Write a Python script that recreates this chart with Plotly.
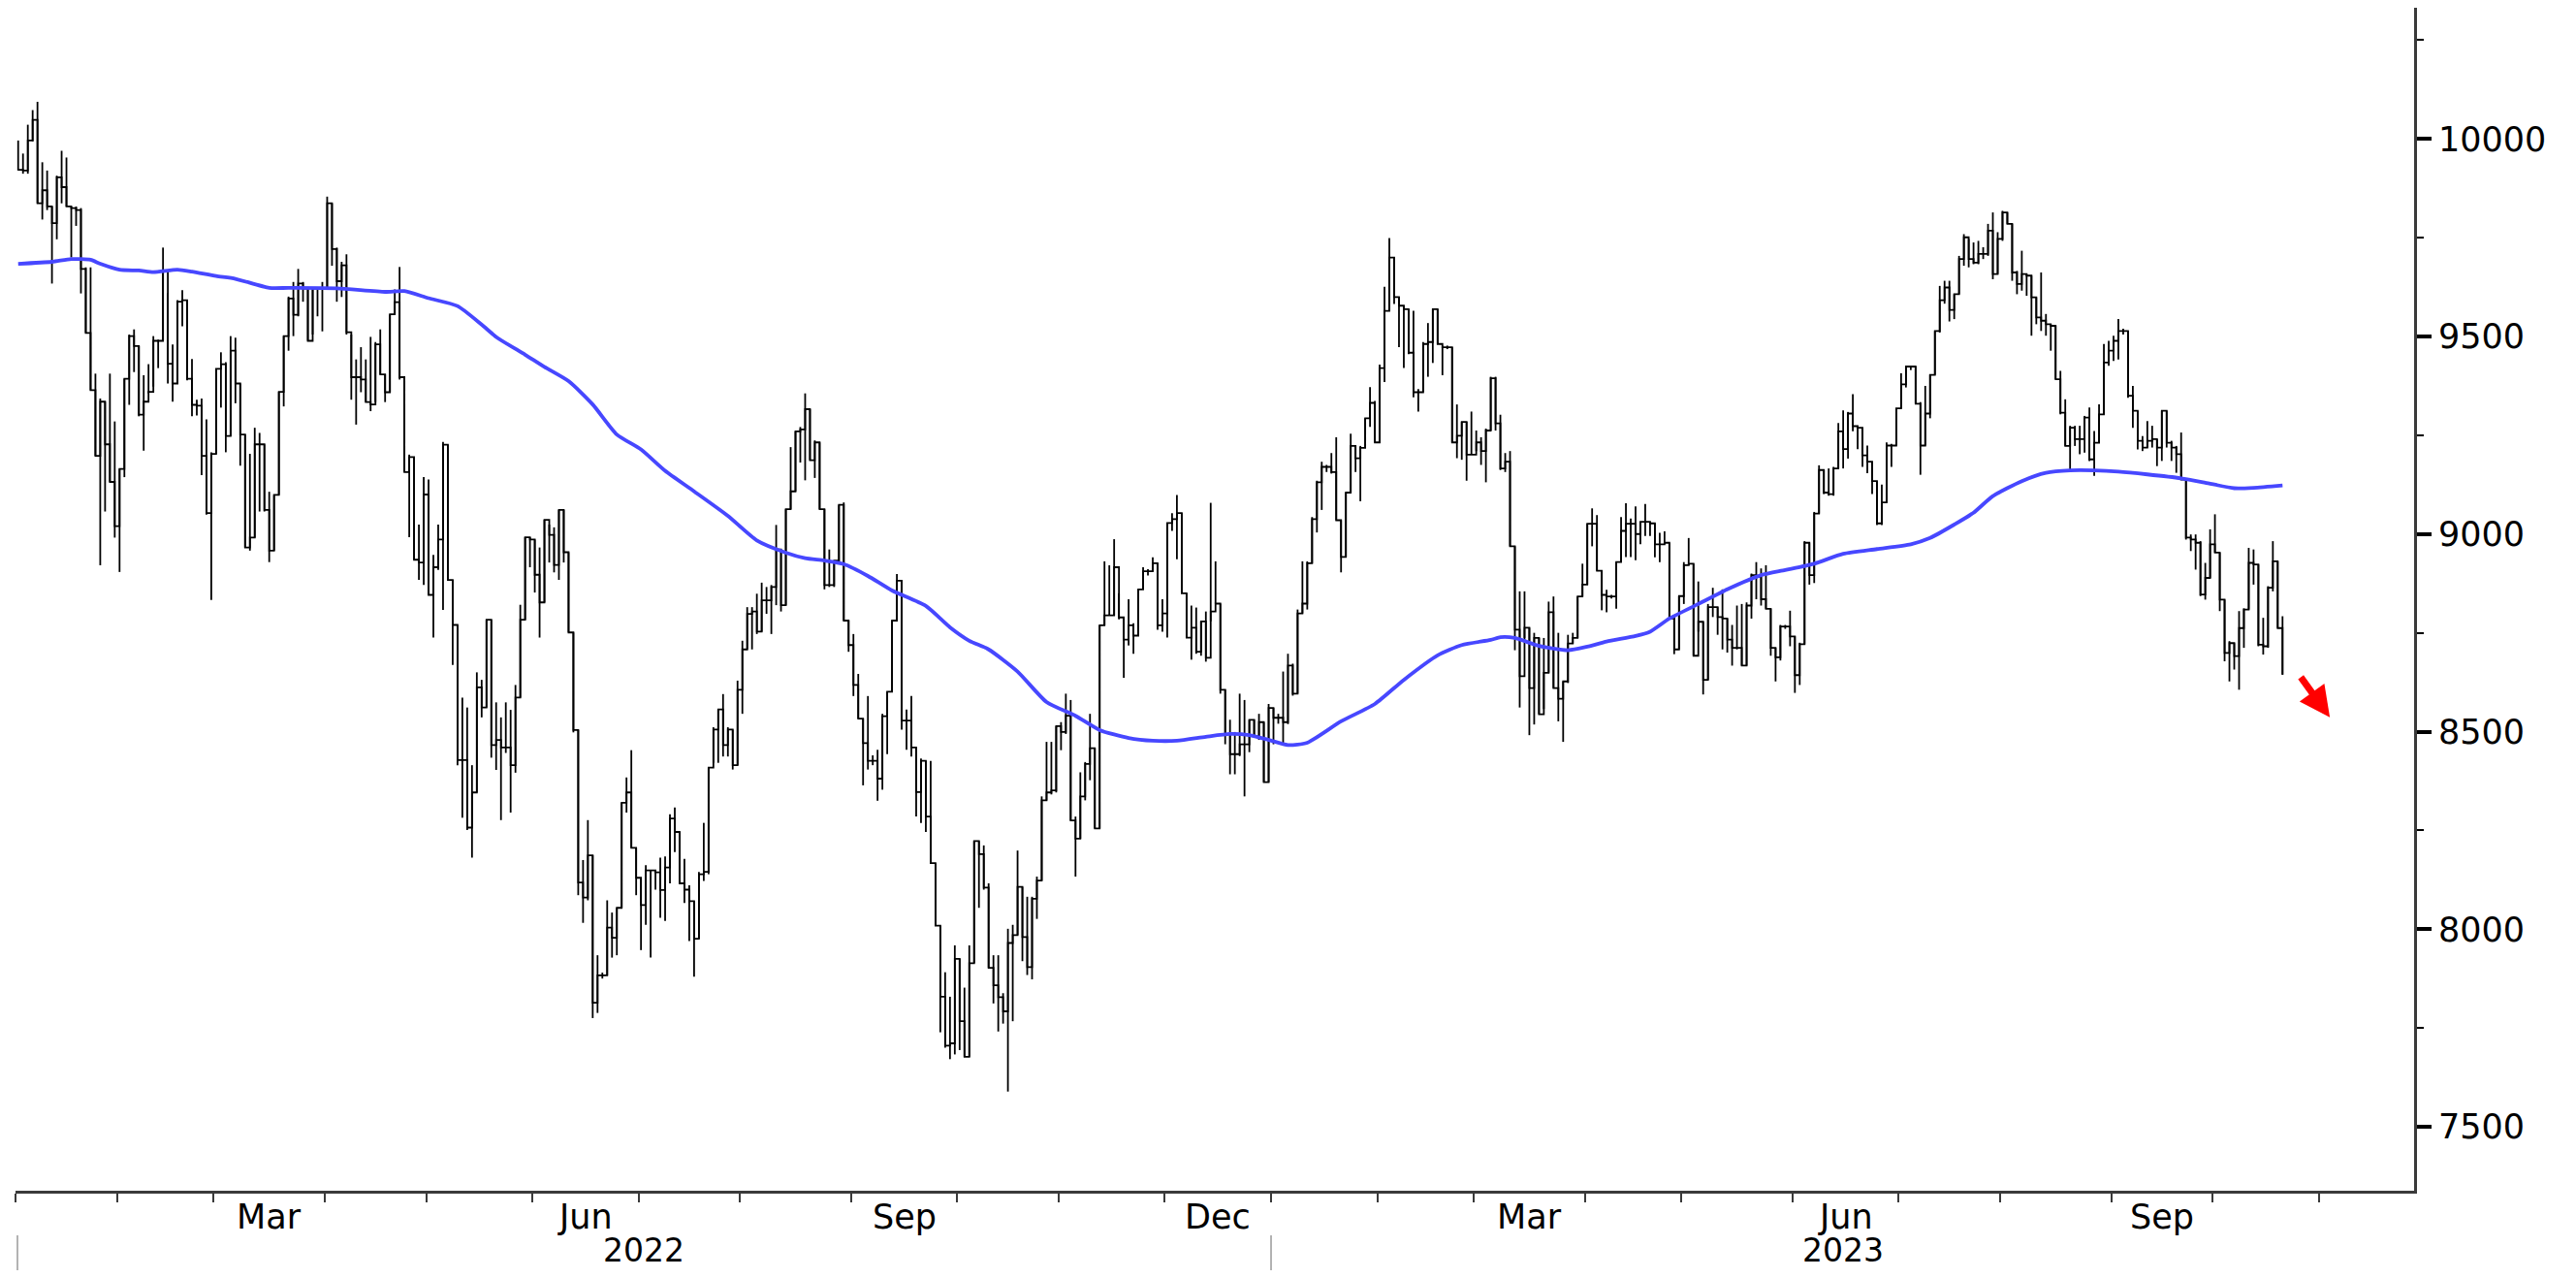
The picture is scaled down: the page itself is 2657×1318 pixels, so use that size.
import numpy as np
import pandas as pd
import plotly.graph_objects as go

# ---------------- data ----------------
START = "2022-01-03"          # first trading day shown
AXIS_END = "2023-11-30"       # axis runs a little past the last bar

high = [
9996, 9963, 10036, 10073, 10094, 9941, 9920, 9829, 9907, 9970,
9953, 9829, 9829, 9825, 9675, 9675, 9406, 9343, 9335, 9406,
9285, 9165, 9393, 9505, 9518, 9476, 9402, 9430, 9501, 9492,
9725, 9609, 9480, 9592, 9617, 9592, 9443, 9340, 9343, 9290,
9207, 9418, 9460, 9435, 9501, 9497, 9381, 9252, 9203, 9269,
9256, 9227, 9107, 9099, 9360, 9501, 9601, 9638, 9671, 9638,
9621, 9621, 9621, 9638, 9854, 9837, 9725, 9689, 9708, 9505,
9442, 9473, 9442, 9499, 9486, 9518, 9404, 9556, 9619, 9676,
9397, 9201, 9195, 9024, 9144, 9138, 8947, 9024, 9233, 9226,
8884, 8770, 8586, 8561, 8415, 8650, 8631, 8783, 8783, 8574,
8536, 8574, 8555, 8618, 8821, 8992, 8992, 8986, 8966, 9036,
9024, 9017, 9061, 9061, 8954, 8751, 8504, 8175, 8276, 8187,
7934, 7890, 8073, 8042, 8054, 8320, 8384, 8453, 8206, 8130,
8162, 8149, 8150, 8181, 8184, 8291, 8308, 8246, 8178, 8111,
8071, 8145, 8269, 8409, 8511, 8556, 8595, 8511, 8505, 8629,
8730, 8815, 8815, 8849, 8877, 8866, 8871, 9023, 8961, 9063,
9220, 9260, 9271, 9356, 9316, 9237, 9232, 9063, 8961, 8933,
9074, 9080, 8781, 8747, 8646, 8533, 8590, 8440, 8454, 8545,
8601, 8781, 8899, 8882, 8556, 8590, 8460, 8432, 8426, 8426,
8167, 8009, 7891, 7829, 7959, 7925, 7852, 7959, 8223, 8223,
8212, 8116, 7934, 7934, 7838, 8001, 8011, 8199, 8107, 8082,
8082, 8133, 8336, 8474, 8474, 8514, 8524, 8596, 8580, 8285,
8397, 8423, 8545, 8458, 8769, 8931, 8921, 8987, 8850, 8789,
8835, 8774, 8860, 8916, 8911, 8941, 8926, 8835, 9028, 9053,
9099, 9053, 8850, 8819, 8814, 8779, 8804, 9079, 8931, 8824,
8606, 8530, 8499, 8596, 8580, 8530, 8530, 8545, 8524, 8570,
8560, 8545, 8652, 8697, 8672, 8809, 8931, 8931, 9043, 9135,
9183, 9175, 9205, 9245, 9035, 9105, 9254, 9223, 9223, 9293,
9372, 9337, 9429, 9626, 9749, 9700, 9600, 9578, 9569, 9565,
9367, 9486, 9534, 9569, 9569, 9477, 9477, 9473, 9328, 9284,
9284, 9310, 9262, 9245, 9267, 9398, 9398, 9302, 9205, 9210,
8969, 8855, 8855, 8763, 8750, 8737, 8737, 8829, 8842, 8750,
8627, 8745, 8750, 8842, 8925, 9026, 9065, 9048, 8907, 8859,
8846, 8929, 9043, 9078, 9039, 9070, 9031, 9076, 9031, 9027,
9003, 9007, 8978, 8790, 8843, 8929, 8990, 8925, 8880, 8778,
8823, 8864, 8815, 8860, 8786, 8770, 8819, 8823, 8827, 8900,
8929, 8913, 8921, 8811, 8712, 8770, 8770, 8806, 8741, 8725,
8982, 8978, 9056, 9174, 9162, 9166, 9170, 9281, 9313, 9309,
9354, 9273, 9269, 9224, 9183, 9134, 9125, 9232, 9228, 9318,
9407, 9424, 9424, 9424, 9334, 9375, 9403, 9514, 9628, 9641,
9641, 9607, 9704, 9759, 9747, 9738, 9742, 9726, 9785, 9814,
9764, 9818, 9814, 9785, 9666, 9717, 9658, 9654, 9599, 9662,
9557, 9531, 9527, 9413, 9341, 9274, 9274, 9274, 9299, 9320,
9261, 9328, 9481, 9489, 9502, 9544, 9520, 9514, 9375, 9312,
9248, 9286, 9274, 9240, 9312, 9312, 9236, 9223, 9257, 9138,
8999, 8999, 8982, 8927, 9012, 9050, 8953, 8834, 8729, 8724,
8805, 8812, 8965, 8961, 8923, 8788, 8868, 8982, 8931, 8792,
]

low = [
9920, 9912, 9912, 9994, 9837, 9796, 9820, 9634, 9746, 9837,
9829, 9700, 9780, 9609, 9509, 9364, 9198, 8921, 9057, 9132,
8991, 8904, 9144, 9327, 9410, 9298, 9211, 9356, 9373, 9420,
9489, 9381, 9335, 9381, 9526, 9389, 9298, 9300, 9149, 9049,
8833, 9203, 9320, 9207, 9248, 9331, 9173, 8966, 8958, 8991,
9057, 9057, 8929, 8958, 9099, 9323, 9464, 9501, 9551, 9588,
9489, 9505, 9551, 9513, 9621, 9679, 9588, 9600, 9505, 9340,
9277, 9359, 9334, 9311, 9334, 9404, 9334, 9359, 9556, 9391,
9157, 8992, 8935, 8884, 8871, 8846, 8738, 8909, 8808, 8884,
8669, 8415, 8282, 8251, 8181, 8346, 8536, 8561, 8434, 8403,
8276, 8446, 8295, 8396, 8586, 8783, 8916, 8852, 8738, 8827,
8928, 8903, 8884, 8928, 8751, 8498, 8086, 8016, 8073, 7775,
7788, 7875, 7883, 7928, 7934, 8054, 8295, 8206, 8086, 7947,
8011, 7928, 8100, 8029, 8021, 8116, 8195, 8116, 8066, 7970,
7880, 7976, 8122, 8139, 8421, 8421, 8437, 8437, 8404, 8415,
8545, 8708, 8708, 8747, 8753, 8798, 8747, 8820, 8804, 8820,
9063, 9108, 9181, 9136, 9187, 9142, 9063, 8860, 8866, 8866,
8928, 8781, 8702, 8590, 8533, 8364, 8404, 8415, 8325, 8353,
8443, 8601, 8781, 8505, 8454, 8437, 8285, 8269, 8246, 8167,
8009, 7739, 7700, 7671, 7683, 7694, 7677, 7677, 7914, 8054,
8100, 7902, 7812, 7741, 7761, 7589, 7767, 7985, 7919, 7884,
7873, 8026, 8123, 8326, 8341, 8346, 8453, 8494, 8275, 8133,
8229, 8326, 8377, 8255, 8255, 8769, 8794, 8794, 8784, 8636,
8718, 8697, 8743, 8860, 8895, 8906, 8758, 8753, 8738, 9008,
8936, 8850, 8738, 8682, 8697, 8692, 8677, 8779, 8824, 8596,
8468, 8392, 8392, 8438, 8336, 8448, 8489, 8479, 8372, 8372,
8468, 8520, 8468, 8519, 8591, 8596, 8799, 8809, 8926, 9004,
9061, 9157, 9153, 9035, 8903, 8942, 9105, 9157, 9083, 9218,
9271, 9232, 9232, 9385, 9565, 9582, 9473, 9420, 9455, 9346,
9310, 9359, 9398, 9433, 9481, 9402, 9468, 9232, 9192, 9188,
9135, 9201, 9210, 9175, 9131, 9262, 9262, 9162, 9157, 8969,
8706, 8561, 8737, 8491, 8518, 8544, 8557, 8649, 8610, 8526,
8474, 8623, 8723, 8737, 8842, 8872, 8969, 8907, 8807, 8802,
8837, 8811, 8929, 8942, 8942, 8934, 8974, 8995, 8995, 8941,
8929, 8974, 8786, 8696, 8708, 8823, 8921, 8692, 8753, 8594,
8631, 8790, 8745, 8708, 8700, 8667, 8708, 8667, 8667, 8786,
8835, 8819, 8811, 8692, 8627, 8680, 8760, 8716, 8598, 8618,
8721, 8872, 8876, 9052, 9101, 9097, 9097, 9166, 9166, 9191,
9260, 9215, 9170, 9154, 9101, 9023, 9023, 9080, 9170, 9224,
9318, 9371, 9415, 9330, 9150, 9224, 9293, 9403, 9510, 9583,
9538, 9544, 9607, 9679, 9675, 9683, 9683, 9696, 9704, 9645,
9658, 9742, 9785, 9641, 9607, 9616, 9603, 9502, 9531, 9514,
9502, 9464, 9392, 9303, 9223, 9164, 9223, 9202, 9206, 9185,
9147, 9231, 9303, 9426, 9438, 9442, 9505, 9345, 9269, 9214,
9210, 9219, 9219, 9172, 9185, 9219, 9185, 9155, 9138, 8986,
8957, 8910, 8843, 8834, 8889, 8953, 8805, 8678, 8627, 8657,
8606, 8712, 8809, 8872, 8716, 8695, 8712, 8855, 8762, 8644,
]

close = [
9922, 9920, 9996, 10048, 9837, 9870, 9829, 9787, 9903, 9878,
9829, 9825, 9820, 9671, 9509, 9364, 9198, 9335, 9227, 9132,
9020, 9165, 9393, 9501, 9476, 9302, 9335, 9360, 9489, 9489,
9667, 9431, 9381, 9588, 9592, 9393, 9327, 9325, 9198, 9053,
9203, 9418, 9430, 9248, 9464, 9381, 9252, 8966, 8991, 9227,
9227, 9061, 8958, 9099, 9360, 9501, 9596, 9555, 9634, 9621,
9489, 9621, 9621, 9621, 9837, 9721, 9640, 9680, 9511, 9397,
9397, 9391, 9334, 9328, 9480, 9404, 9359, 9556, 9587, 9397,
9157, 9195, 8935, 8928, 9100, 8846, 8916, 8986, 9226, 8884,
8770, 8428, 8428, 8257, 8346, 8612, 8561, 8783, 8466, 8479,
8460, 8460, 8415, 8586, 8783, 8992, 8986, 8897, 8827, 9036,
8998, 8922, 9061, 8954, 8751, 8504, 8118, 8080, 8187, 7814,
7883, 7883, 8004, 7978, 8054, 8320, 8346, 8206, 8130, 8061,
8149, 8149, 8144, 8099, 8156, 8280, 8246, 8116, 8100, 8071,
7976, 8139, 8145, 8409, 8505, 8556, 8466, 8505, 8415, 8606,
8708, 8798, 8804, 8753, 8832, 8832, 8866, 8961, 8820, 9063,
9108, 9260, 9265, 9316, 9187, 9232, 9063, 8871, 8871, 8933,
9074, 8781, 8719, 8618, 8533, 8471, 8426, 8426, 8381, 8539,
8601, 8781, 8882, 8528, 8528, 8460, 8347, 8426, 8285, 8167,
8009, 7829, 7705, 7711, 7925, 7767, 7677, 7914, 8223, 8190,
8105, 7902, 7858, 7828, 7792, 7965, 7985, 8107, 7980, 7904,
8077, 8123, 8326, 8346, 8351, 8514, 8499, 8540, 8275, 8229,
8336, 8418, 8458, 8255, 8769, 8794, 8794, 8916, 8789, 8733,
8769, 8743, 8860, 8906, 8906, 8926, 8769, 8799, 9028, 9038,
9053, 8850, 8738, 8763, 8702, 8779, 8687, 8804, 8824, 8606,
8494, 8443, 8443, 8468, 8468, 8530, 8489, 8524, 8372, 8560,
8535, 8535, 8524, 8667, 8596, 8799, 8824, 8926, 9038, 9131,
9170, 9170, 9157, 9035, 8942, 9105, 9223, 9192, 9218, 9293,
9332, 9232, 9420, 9565, 9700, 9600, 9578, 9569, 9459, 9359,
9359, 9481, 9486, 9569, 9481, 9473, 9473, 9232, 9249, 9284,
9201, 9201, 9232, 9210, 9262, 9394, 9280, 9166, 9183, 8969,
8758, 8640, 8763, 8610, 8737, 8544, 8649, 8802, 8610, 8583,
8627, 8723, 8737, 8842, 8872, 9026, 9026, 8907, 8846, 8842,
8842, 8929, 9008, 9026, 9026, 9000, 9031, 9031, 9027, 8974,
8974, 8978, 8786, 8708, 8843, 8921, 8925, 8692, 8778, 8631,
8815, 8815, 8790, 8786, 8733, 8712, 8712, 8667, 8819, 8896,
8892, 8835, 8811, 8712, 8688, 8766, 8766, 8741, 8643, 8721,
8978, 8896, 9052, 9162, 9105, 9101, 9166, 9260, 9215, 9305,
9273, 9269, 9199, 9183, 9134, 9027, 9080, 9224, 9224, 9318,
9379, 9424, 9424, 9330, 9224, 9305, 9403, 9514, 9592, 9624,
9567, 9607, 9696, 9751, 9696, 9687, 9709, 9709, 9768, 9658,
9747, 9814, 9785, 9662, 9633, 9658, 9654, 9599, 9548, 9540,
9531, 9527, 9392, 9307, 9223, 9269, 9240, 9240, 9295, 9189,
9231, 9303, 9434, 9464, 9489, 9514, 9514, 9350, 9312, 9236,
9219, 9236, 9240, 9219, 9312, 9231, 9219, 9202, 9138, 8991,
8986, 8978, 8847, 8889, 8974, 8953, 8834, 8699, 8724, 8691,
8762, 8809, 8927, 8923, 8720, 8716, 8864, 8931, 8762, 8644,
]

# moving average (blue line), sampled at trading-day positions
ma_day = [0, 7, 11, 15, 17, 21, 25, 28, 33, 36, 41, 45, 52, 56, 66, 76, 80, 85,
          91, 96, 99, 105, 109, 114, 119, 124, 129, 134, 140, 147, 153, 159, 163,
          167, 171, 176, 181, 188, 193, 197, 201, 207, 213, 219, 224, 230, 235,
          240, 246, 251, 255, 259, 263, 267, 274, 281, 287, 294, 299, 305, 307,
          310, 315, 321, 325, 329, 335, 338, 342, 348, 354, 361, 366, 372, 378,
          385, 392, 396, 401, 405, 409, 415, 420, 425, 430, 435, 441, 448, 453,
          459, 463, 469]
ma_value = [9684, 9689, 9696, 9694, 9684, 9669, 9667, 9663, 9669, 9664, 9653, 9646,
            9623, 9623, 9622, 9613, 9615, 9597, 9577, 9530, 9499, 9454, 9423, 9387,
            9328, 9252, 9214, 9160, 9108, 9046, 8984, 8953, 8939, 8933, 8924, 8894,
            8857, 8818, 8764, 8730, 8708, 8652, 8575, 8540, 8504, 8484, 8477, 8477,
            8487, 8494, 8491, 8479, 8466, 8472, 8526, 8570, 8631, 8693, 8719, 8732,
            8739, 8737, 8717, 8706, 8715, 8728, 8742, 8753, 8786, 8823, 8860, 8896,
            8909, 8925, 8950, 8962, 8974, 8990, 9024, 9054, 9096, 9134, 9155, 9161,
            9161, 9158, 9151, 9141, 9130, 9116, 9117, 9123]

month_labels = {3: "Mar", 6: "Jun", 9: "Sep", 12: "Dec"}
y_ticks = [7500, 8000, 8500, 9000, 9500, 10000]
y_tick_text = ["7500", "8000", "8500", "9000", "9500", "10000"]

# ---------------- derived positions ----------------
N = len(close)
days = np.arange(N)
X_RANGE = [-0.55, 496.25]
Y_RANGE = [7338, 10332]

axis_days = pd.bdate_range(START, AXIS_END)
periods = axis_days.to_period("M")
pos = np.arange(len(axis_days))
first_of_month = np.r_[True, periods[1:] != periods[:-1]]
month_bounds = (pos[first_of_month] - 0.5).tolist()

month_centers = []
for p in pd.unique(periods):
    idx = pos[periods == p]
    if p.month in month_labels and idx[-1] <= X_RANGE[1]:
        month_centers.append(((idx[0] + idx[-1]) / 2.0, month_labels[p.month]))

years = axis_days.year
year_info = []
for yv in sorted(set(years)):
    idx = pos[years == yv]
    a = max(idx[0] - 0.5, X_RANGE[0])
    b = min(idx[-1] + 0.5, X_RANGE[1])
    year_info.append((idx[0] - 0.5, (a + b) / 2.0, str(yv)))

# vertical high-low segments
seg_x, seg_y = [], []
for i in range(N):
    seg_x += [days[i], days[i], None]
    seg_y += [low[i], high[i], None]

FONT = "DejaVu Sans"
FS = 35

fig = go.Figure()
fig.add_trace(go.Scatter(x=seg_x, y=seg_y, mode="lines",
                         line=dict(color="black", width=1.8),
                         hoverinfo="skip", showlegend=False))
fig.add_trace(go.Scatter(x=days, y=close, mode="lines",
                         line=dict(color="black", width=1.8, shape="hv"),
                         showlegend=False))
fig.add_trace(go.Scatter(x=ma_day, y=ma_value, mode="lines",
                         line=dict(color="#4747ff", width=3.8, shape="spline", smoothing=0.6),
                         showlegend=False))

annotations = []
for cx, txt in month_centers:
    annotations.append(dict(x=cx, xref="x", y=0, yref="paper", text=txt,
                            showarrow=False, yanchor="middle", yshift=-27, borderpad=0,
                            font=dict(family=FONT, size=FS, color="black")))
for bx, cx, txt in year_info:
    annotations.append(dict(x=cx, xref="x", y=0, yref="paper", text=txt,
                            showarrow=False, yanchor="middle", yshift=-61, borderpad=0,
                            font=dict(family=FONT, size=FS - 2, color="black")))

# red down arrow after the last bar
annotations.append(dict(x=478.8, y=8536, xref="x", yref="y", ax=-31, ay=-43,
                        axref="pixel", ayref="pixel", text="", showarrow=True,
                        arrowhead=2, arrowsize=0.9, arrowwidth=7, arrowcolor="#ff0000"))

shapes = []
for bx, cx, txt in year_info:
    if X_RANGE[0] - 1 <= bx <= X_RANGE[1]:
        xx = max(bx, X_RANGE[0] + 0.4)
        shapes.append(dict(type="line", xref="x", x0=xx, x1=xx,
                           yref="paper", ysizemode="pixel", yanchor=0, y0=-46, y1=-84,
                           line=dict(color="#9a9a9a", width=1.5)))

fig.update_layout(
    margin=dict(l=8, r=159, t=0, b=82),
    paper_bgcolor="white", plot_bgcolor="white",
    showlegend=False, hovermode=False,
    annotations=annotations, shapes=shapes,
    xaxis=dict(range=X_RANGE, showgrid=False, zeroline=False,
               showline=True, linecolor="#3a3a3a", linewidth=3,
               tickmode="array", tickvals=month_bounds, showticklabels=False,
               ticks="outside", ticklen=9, tickwidth=1.5, tickcolor="#3a3a3a"),
    yaxis=dict(range=Y_RANGE, side="right", showgrid=False, zeroline=False,
               showline=True, linecolor="#3a3a3a", linewidth=3,
               tickmode="array", tickvals=y_ticks, ticktext=y_tick_text,
               ticks="outside", ticklen=15, tickwidth=4, tickcolor="black",
               tickfont=dict(family=FONT, size=FS, color="black"),
               minor=dict(tickmode="linear", tick0=7250, dtick=250, ticks="outside",
                          ticklen=7, tickwidth=1.5, tickcolor="black")),
)

fig.write_html("out.html")
